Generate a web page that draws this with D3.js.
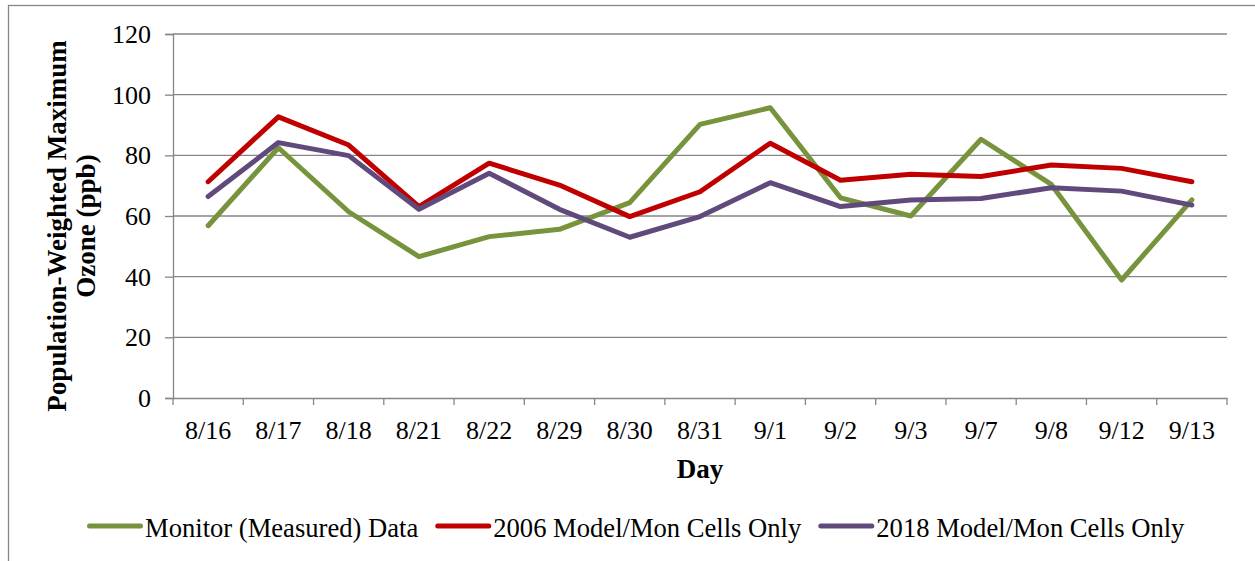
<!DOCTYPE html>
<html>
<head>
<meta charset="utf-8">
<script src="https://cdn.jsdelivr.net/npm/d3@7/dist/d3.min.js"></script>
<style>
  body { margin: 0; background: #fff; }
  text { font-family: "Liberation Serif", "Times New Roman", serif; fill: #000; }
</style>
</head>
<body>
<div id="chart"></div>
<script>
// data
var days = ["8/16", "8/17", "8/18", "8/21", "8/22", "8/29", "8/30", "8/31",
            "9/1", "9/2", "9/3", "9/7", "9/8", "9/12", "9/13"];
var monitor   = [56.8, 82.5, 61.4, 46.6, 53.2, 55.6, 64.4, 90.2, 95.7, 66.0, 60.0, 85.3, 70.4, 38.9, 65.3];
var model2006 = [71.3, 92.7, 83.4, 63.1, 77.4, 70.2, 59.8, 68.0, 84.0, 71.8, 73.8, 73.0, 76.8, 75.7, 71.3];
var model2018 = [66.4, 84.2, 79.9, 62.2, 74.1, 62.2, 53.0, 59.8, 71.0, 63.1, 65.3, 65.8, 69.3, 68.2, 63.6];
var yTicks = [0, 20, 40, 60, 80, 100, 120];
var seriesNames = ["Monitor (Measured) Data", "2006 Model/Mon Cells Only", "2018 Model/Mon Cells Only"];
var seriesColors = ["#77933C", "#C00000", "#604A7B"];

var series = [monitor, model2006, model2018];

// set the dimensions and margins of the graph
var margin = {top: 34, right: 28, bottom: 163, left: 173},
    width = 1255 - margin.left - margin.right,
    height = 561 - margin.top - margin.bottom;

var root = d3.select("#chart")
  .append("svg")
    .attr("width", 1255)
    .attr("height", 561);

// outer chart border (runs off the right and bottom edge)
root.append("rect")
  .attr("x", 8.5).attr("y", 5.5)
  .attr("width", 1300).attr("height", 600)
  .attr("fill", "none")
  .attr("stroke", "#868686")
  .attr("stroke-width", 1.3);

var svg = root.append("g")
  .attr("transform", "translate(" + margin.left + "," + margin.top + ")");

var x = d3.scaleBand()
  .domain(days)
  .range([0, width])
  .padding(0);

var y = d3.scaleLinear()
  .domain([0, 120])
  .range([height, 0]);

// gridlines
svg.append("g")
  .selectAll("line")
  .data(yTicks.filter(function(d) { return d > 0; }))
  .enter()
  .append("line")
    .attr("x1", 0)
    .attr("x2", width)
    .attr("y1", function(d) { return y(d); })
    .attr("y2", function(d) { return y(d); })
    .attr("stroke", "#868686")
    .attr("stroke-width", 1.3);

// Y axis
var yAxis = svg.append("g")
  .call(d3.axisLeft(y).tickValues(yTicks).tickSize(8).tickPadding(14));
yAxis.selectAll("text")
  .style("font-size", "26px")
  .style("font-family", "Liberation Serif, serif")
  .attr("dy", "0.33em");

// X axis: labels centred in bands, tick marks on band edges
var xAxis = svg.append("g")
  .attr("transform", "translate(0," + height + ")")
  .call(d3.axisBottom(x).tickSize(0).tickPadding(0));
xAxis.selectAll("text")
  .style("font-size", "26px")
  .style("font-family", "Liberation Serif, serif")
  .attr("y", 41)
  .attr("dy", 0);

xAxis.selectAll("edgeTick")
  .data(days.concat(["end"]))
  .enter()
  .append("line")
    .attr("x1", function(d) { return d === "end" ? width : x(d); })
    .attr("x2", function(d) { return d === "end" ? width : x(d); })
    .attr("y1", 0)
    .attr("y2", 7)
    .attr("stroke", "#868686")
    .attr("stroke-width", 1.3);

svg.selectAll(".domain, .tick line")
  .attr("stroke", "#868686")
  .attr("stroke-width", 1.3);

// axis titles
svg.append("text")
  .attr("x", width / 2)
  .attr("y", height + 80)
  .attr("text-anchor", "middle")
  .style("font-size", "27px")
  .style("font-weight", "bold")
  .text("Day");

var yTitle = svg.append("text")
  .attr("transform", "translate(-107.5," + (height / 2 + 10) + ") rotate(-90)")
  .attr("text-anchor", "middle")
  .style("font-size", "27px")
  .style("font-weight", "bold");
yTitle.append("tspan").attr("x", 0).attr("dy", 0).text("Population-Weighted Maximum");
yTitle.append("tspan").attr("x", 0).attr("dy", 29.5).text("Ozone (ppb)");

// lines
var line = d3.line()
  .x(function(d, i) { return x(days[i]) + x.bandwidth() / 2; })
  .y(function(d) { return y(d); });

svg.selectAll("seriesLine")
  .data(series)
  .enter()
  .append("path")
    .attr("d", function(d) { return line(d); })
    .attr("fill", "none")
    .attr("stroke", function(d, i) { return seriesColors[i]; })
    .attr("stroke-width", 5)
    .attr("stroke-linejoin", "round")
    .attr("stroke-linecap", "round");

// legend
var legend = root.append("g");
var lx = 87, ly = 526;
seriesNames.forEach(function(name, i) {
  legend.append("line")
    .attr("x1", lx + 2.5).attr("x2", lx + 53.5)
    .attr("y1", ly).attr("y2", ly)
    .attr("stroke", seriesColors[i])
    .attr("stroke-width", 5)
    .attr("stroke-linecap", "round");
  var t = legend.append("text")
    .attr("x", lx + 58)
    .attr("y", ly + 10.5)
    .style("font-size", "26.6px")
    .text(name);
  lx = lx + 58 + t.node().getComputedTextLength() + 17;
});
</script>
</body>
</html>
